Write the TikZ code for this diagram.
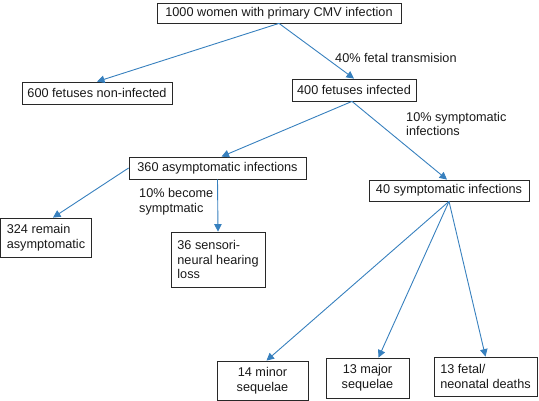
\documentclass[tikz,border=0pt]{standalone}
\usepackage{fontspec}
\setmainfont{Liberation Sans}
\usetikzlibrary{arrows.meta}
\definecolor{arrowblue}{RGB}{55,128,190}
\definecolor{boxline}{RGB}{40,40,40}
\begin{document}
\begin{tikzpicture}[x=1pt,y=-1pt,
  every node/.style={font=\fontsize{12.7}{14.8}\selectfont, text=black!90},
  box/.style={draw=boxline, line width=0.8pt, inner sep=0pt, minimum height=#1, anchor=center},
  lbox/.style={draw=boxline, line width=0.8pt, inner sep=0pt, minimum height=#1, align=left, anchor=center},
  cbox/.style={draw=boxline, line width=0.8pt, inner sep=0pt, minimum height=#1, align=center, anchor=center},
  lbl/.style={align=left, anchor=west, inner sep=0pt},
  conn/.style={draw=arrowblue, line width=0.9pt, -{Triangle[length=7.5pt,width=7.5pt]}}
]
\path[use as bounding box] (0,0) rectangle (539,401);

\node[box=20pt, minimum width=244pt] (top) at (279,13) {1000 women with primary CMV infection};
\node[box=22pt, minimum width=150pt] (n600) at (97,93) {600 fetuses non-infected};
\node[box=22pt, minimum width=124pt] (n400) at (354,90) {400 fetuses infected};
\node[box=22pt, minimum width=177pt] (n360) at (217.5,168) {360 asymptomatic infections};
\node[lbox=39pt, minimum width=91pt] (n324) at (46,237.5) {324 remain\\asymptomatic};
\node[lbox=55pt, minimum width=94pt] (n36) at (218,259.5) {36 sensori-\\neural hearing\\loss};
\node[box=21pt, minimum width=160pt] (n40) at (449,190.5) {40 symptomatic infections};
\node[cbox=39pt, minimum width=91pt] (n14) at (262.5,380.5) {14 minor\\sequelae};
\node[cbox=40pt, minimum width=83pt] (n13a) at (367.5,378) {13 major\\sequelae};
\node[lbox=39pt, minimum width=103pt] (n13b) at (485.5,376.5) {13 fetal/\\neonatal deaths};

\node[lbl] (l40) at (335,58) {40\% fetal transmision};
\node[lbl] (l10s) at (406,124) {10\% symptomatic\\infections};
\node[lbl] (l10b) at (139,201.5) {10\% become\\symptmatic};

\draw[conn] (top.south) -- (n600.north);
\draw[conn] (top.south) -- (n400.north);
\draw[conn] ([xshift=-2pt]n400.south) -- ([xshift=4pt]n360.north);
\draw[conn] ([xshift=-2pt]n400.south) -- ([xshift=-2pt]n40.north);
\draw[conn] (n360.west) -- ([xshift=7pt]n324.north);
\draw[conn] (n360.south) -- (n36.north);
\draw[conn] (n40.south) -- ([xshift=4pt]n14.north);
\draw[conn] (n40.south) -- ([xshift=11pt]n13a.north);
\draw[conn] (n40.south) -- (n13b.north);
\end{tikzpicture}
\end{document}
